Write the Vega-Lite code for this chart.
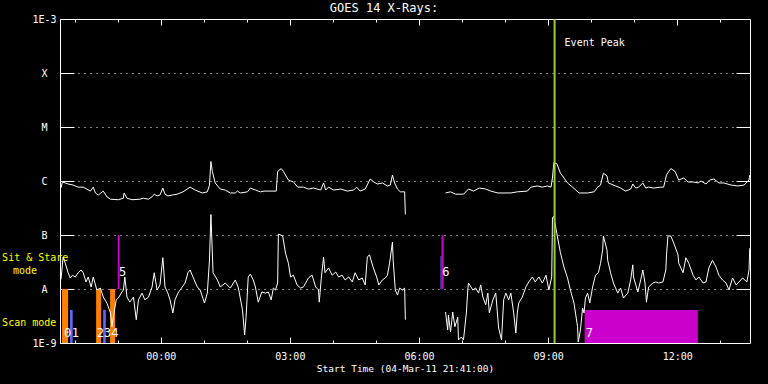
{
  "$schema": "https://vega.github.io/schema/vega-lite/v6.json",
  "width": 690,
  "height": 324,
  "autosize": {"type": "none"},
  "padding": {"left": 60, "top": 19, "right": 18, "bottom": 41},
  "background": "black",
  "title": {"text": "GOES 14 X-Rays:", "color": "white", "font": "DejaVu Sans Mono", "fontSize": 12, "fontWeight": "normal", "anchor": "middle", "frame": "group", "offset": -1, "dx": -21},
  "config": {
    "view": {"stroke": "white", "strokeWidth": 1},
    "axis": {"labelColor": "white", "tickColor": "white", "domainColor": "white", "titleColor": "white", "labelFont": "DejaVu Sans Mono", "titleFont": "DejaVu Sans Mono", "labelFontSize": 10, "titleFontSize": 9.5, "titleFontWeight": "normal", "tickWidth": 1, "tickOpacity": 1}
  },
  "datasets": {
    "long": [
      {"t":"2011-03-04T21:41Z","f":7.4e-7,"seg":1},{"t":"2011-03-04T21:43Z","f":9.6e-7,"seg":1},{"t":"2011-03-04T21:47Z","f":9.2e-7,"seg":1},{"t":"2011-03-04T21:51Z","f":8.8e-7,"seg":1},{"t":"2011-03-04T21:58Z","f":8.4e-7,"seg":1},{"t":"2011-03-04T22:05Z","f":7.7e-7,"seg":1},{"t":"2011-03-04T22:12Z","f":7.7e-7,"seg":1},{"t":"2011-03-04T22:17Z","f":7.1e-7,"seg":1},{"t":"2011-03-04T22:22Z","f":6.5e-7,"seg":1},{"t":"2011-03-04T22:26Z","f":7.7e-7,"seg":1},{"t":"2011-03-04T22:29Z","f":6.0e-7,"seg":1},{"t":"2011-03-04T22:33Z","f":5.5e-7,"seg":1},{"t":"2011-03-04T22:40Z","f":6.5e-7,"seg":1},{"t":"2011-03-04T22:45Z","f":5.1e-7,"seg":1},{"t":"2011-03-04T22:50Z","f":4.6e-7,"seg":1},{"t":"2011-03-04T23:01Z","f":4.5e-7,"seg":1},{"t":"2011-03-04T23:08Z","f":4.8e-7,"seg":1},{"t":"2011-03-04T23:09Z","f":6.0e-7,"seg":1},{"t":"2011-03-04T23:13Z","f":4.8e-7,"seg":1},{"t":"2011-03-04T23:20Z","f":4.5e-7,"seg":1},{"t":"2011-03-04T23:31Z","f":4.6e-7,"seg":1},{"t":"2011-03-04T23:36Z","f":4.8e-7,"seg":1},{"t":"2011-03-04T23:43Z","f":4.6e-7,"seg":1},{"t":"2011-03-04T23:48Z","f":5.1e-7,"seg":1},{"t":"2011-03-04T23:51Z","f":5.7e-7,"seg":1},{"t":"2011-03-04T23:55Z","f":5.3e-7,"seg":1},{"t":"2011-03-04T23:59Z","f":5.5e-7,"seg":1},
      {"t":"2011-03-05T00:03Z","f":7.4e-7,"seg":1},{"t":"2011-03-05T00:06Z","f":5.7e-7,"seg":1},{"t":"2011-03-05T00:10Z","f":5.3e-7,"seg":1},{"t":"2011-03-05T00:16Z","f":5.5e-7,"seg":1},{"t":"2011-03-05T00:23Z","f":5.7e-7,"seg":1},{"t":"2011-03-05T00:31Z","f":6.3e-7,"seg":1},{"t":"2011-03-05T00:41Z","f":7.7e-7,"seg":1},{"t":"2011-03-05T00:48Z","f":6.8e-7,"seg":1},{"t":"2011-03-05T00:58Z","f":6.0e-7,"seg":1},{"t":"2011-03-05T01:05Z","f":6.3e-7,"seg":1},{"t":"2011-03-05T01:08Z","f":8.4e-7,"seg":1},{"t":"2011-03-05T01:10Z","f":2.3e-6,"seg":1},{"t":"2011-03-05T01:12Z","f":1.5e-6,"seg":1},{"t":"2011-03-05T01:16Z","f":9.2e-7,"seg":1},{"t":"2011-03-05T01:23Z","f":7.1e-7,"seg":1},{"t":"2011-03-05T01:30Z","f":6.8e-7,"seg":1},{"t":"2011-03-05T01:37Z","f":6.0e-7,"seg":1},{"t":"2011-03-05T01:44Z","f":6.0e-7,"seg":1},{"t":"2011-03-05T01:47Z","f":6.5e-7,"seg":1},{"t":"2011-03-05T01:51Z","f":6.0e-7,"seg":1},{"t":"2011-03-05T02:01Z","f":6.3e-7,"seg":1},{"t":"2011-03-05T02:05Z","f":7.4e-7,"seg":1},{"t":"2011-03-05T02:12Z","f":6.8e-7,"seg":1},{"t":"2011-03-05T02:19Z","f":6.3e-7,"seg":1},{"t":"2011-03-05T02:24Z","f":6.5e-7,"seg":1},{"t":"2011-03-05T02:41Z","f":6.5e-7,"seg":1},{"t":"2011-03-05T02:43Z","f":1.5e-6,"seg":1},{"t":"2011-03-05T02:48Z","f":1.7e-6,"seg":1},{"t":"2011-03-05T02:51Z","f":1.5e-6,"seg":1},{"t":"2011-03-05T02:58Z","f":1.04e-6,"seg":1},{"t":"2011-03-05T03:05Z","f":9.6e-7,"seg":1},{"t":"2011-03-05T03:11Z","f":7.7e-7,"seg":1},{"t":"2011-03-05T03:19Z","f":7.7e-7,"seg":1},{"t":"2011-03-05T03:26Z","f":7.1e-7,"seg":1},{"t":"2011-03-05T03:33Z","f":7.4e-7,"seg":1},{"t":"2011-03-05T03:43Z","f":6.8e-7,"seg":1},{"t":"2011-03-05T03:47Z","f":9.2e-7,"seg":1},{"t":"2011-03-05T03:50Z","f":6.8e-7,"seg":1},{"t":"2011-03-05T03:54Z","f":7.7e-7,"seg":1},{"t":"2011-03-05T04:01Z","f":6.8e-7,"seg":1},{"t":"2011-03-05T04:11Z","f":7.1e-7,"seg":1},{"t":"2011-03-05T04:20Z","f":6.5e-7,"seg":1},{"t":"2011-03-05T04:29Z","f":6.8e-7,"seg":1},{"t":"2011-03-05T04:33Z","f":7.7e-7,"seg":1},{"t":"2011-03-05T04:38Z","f":6.5e-7,"seg":1},{"t":"2011-03-05T04:45Z","f":7.1e-7,"seg":1},{"t":"2011-03-05T04:52Z","f":1.09e-6,"seg":1},{"t":"2011-03-05T04:57Z","f":9.6e-7,"seg":1},{"t":"2011-03-05T05:02Z","f":8.8e-7,"seg":1},{"t":"2011-03-05T05:09Z","f":9.2e-7,"seg":1},{"t":"2011-03-05T05:16Z","f":8.1e-7,"seg":1},{"t":"2011-03-05T05:20Z","f":8.4e-7,"seg":1},{"t":"2011-03-05T05:23Z","f":1.29e-6,"seg":1},{"t":"2011-03-05T05:26Z","f":9.2e-7,"seg":1},{"t":"2011-03-05T05:30Z","f":7.1e-7,"seg":1},{"t":"2011-03-05T05:34Z","f":6.3e-7,"seg":1},{"t":"2011-03-05T05:40Z","f":6.3e-7,"seg":1},{"t":"2011-03-05T05:41Z","f":2.4e-7,"seg":1},
      {"t":"2011-03-05T06:37Z","f":6.0e-7,"seg":2},{"t":"2011-03-05T06:44Z","f":6.3e-7,"seg":2},{"t":"2011-03-05T06:51Z","f":5.7e-7,"seg":2},{"t":"2011-03-05T07:02Z","f":5.7e-7,"seg":2},{"t":"2011-03-05T07:09Z","f":7.1e-7,"seg":2},{"t":"2011-03-05T07:16Z","f":6.5e-7,"seg":2},{"t":"2011-03-05T07:24Z","f":7.4e-7,"seg":2},{"t":"2011-03-05T07:33Z","f":7.1e-7,"seg":2},{"t":"2011-03-05T07:40Z","f":6.5e-7,"seg":2},{"t":"2011-03-05T07:50Z","f":6.0e-7,"seg":2},{"t":"2011-03-05T08:08Z","f":6.0e-7,"seg":2},{"t":"2011-03-05T08:17Z","f":6.3e-7,"seg":2},{"t":"2011-03-05T08:31Z","f":6.5e-7,"seg":2},{"t":"2011-03-05T08:36Z","f":7.7e-7,"seg":2},{"t":"2011-03-05T08:45Z","f":8.1e-7,"seg":2},{"t":"2011-03-05T08:52Z","f":7.7e-7,"seg":2},{"t":"2011-03-05T08:59Z","f":8.1e-7,"seg":2},{"t":"2011-03-05T09:04Z","f":7.7e-7,"seg":2},{"t":"2011-03-05T09:06Z","f":1.14e-6,"seg":2},{"t":"2011-03-05T09:08Z","f":2.2e-6,"seg":2},{"t":"2011-03-05T09:12Z","f":2.1e-6,"seg":2},{"t":"2011-03-05T09:17Z","f":1.41e-6,"seg":2},{"t":"2011-03-05T09:27Z","f":9.2e-7,"seg":2},{"t":"2011-03-05T09:34Z","f":7.7e-7,"seg":2},{"t":"2011-03-05T09:43Z","f":6.0e-7,"seg":2},{"t":"2011-03-05T09:55Z","f":6.0e-7,"seg":2},{"t":"2011-03-05T10:04Z","f":6.3e-7,"seg":2},{"t":"2011-03-05T10:09Z","f":7.7e-7,"seg":2},{"t":"2011-03-05T10:13Z","f":8.4e-7,"seg":2},{"t":"2011-03-05T10:17Z","f":1.4e-6,"seg":2},{"t":"2011-03-05T10:22Z","f":1.24e-6,"seg":2},{"t":"2011-03-05T10:24Z","f":9.2e-7,"seg":2},{"t":"2011-03-05T10:34Z","f":8.1e-7,"seg":2},{"t":"2011-03-05T10:41Z","f":7.4e-7,"seg":2},{"t":"2011-03-05T10:48Z","f":6.5e-7,"seg":2},{"t":"2011-03-05T10:55Z","f":7.1e-7,"seg":2},{"t":"2011-03-05T10:58Z","f":8.8e-7,"seg":2},{"t":"2011-03-05T11:02Z","f":7.4e-7,"seg":2},{"t":"2011-03-05T11:06Z","f":7.7e-7,"seg":2},{"t":"2011-03-05T11:12Z","f":9.2e-7,"seg":2},{"t":"2011-03-05T11:16Z","f":7.4e-7,"seg":2},{"t":"2011-03-05T11:20Z","f":7.7e-7,"seg":2},{"t":"2011-03-05T11:27Z","f":7.4e-7,"seg":2},{"t":"2011-03-05T11:37Z","f":7.7e-7,"seg":2},{"t":"2011-03-05T11:41Z","f":7.7e-7,"seg":2},{"t":"2011-03-05T11:45Z","f":1.3e-6,"seg":2},{"t":"2011-03-05T11:51Z","f":1.7e-6,"seg":2},{"t":"2011-03-05T11:57Z","f":1.5e-6,"seg":2},{"t":"2011-03-05T12:02Z","f":1.04e-6,"seg":2},{"t":"2011-03-05T12:09Z","f":1.14e-6,"seg":2},{"t":"2011-03-05T12:15Z","f":9.6e-7,"seg":2},{"t":"2011-03-05T12:22Z","f":9.6e-7,"seg":2},{"t":"2011-03-05T12:29Z","f":9.2e-7,"seg":2},{"t":"2011-03-05T12:33Z","f":1.0e-6,"seg":2},{"t":"2011-03-05T12:40Z","f":8.8e-7,"seg":2},{"t":"2011-03-05T12:45Z","f":1.04e-6,"seg":2},{"t":"2011-03-05T12:51Z","f":1.09e-6,"seg":2},{"t":"2011-03-05T12:58Z","f":9.2e-7,"seg":2},{"t":"2011-03-05T13:05Z","f":9.2e-7,"seg":2},{"t":"2011-03-05T13:15Z","f":8.4e-7,"seg":2},{"t":"2011-03-05T13:24Z","f":8.1e-7,"seg":2},{"t":"2011-03-05T13:33Z","f":8.4e-7,"seg":2},{"t":"2011-03-05T13:40Z","f":1.04e-6,"seg":2},{"t":"2011-03-05T13:41Z","f":1.29e-6,"seg":2}
    ],
    "short": [
      {"t":"2011-03-04T21:41Z","f":1.5e-8,"seg":1},{"t":"2011-03-04T21:43Z","f":2.8e-8,"seg":1},{"t":"2011-03-04T21:44Z","f":3.9e-8,"seg":1},{"t":"2011-03-04T21:47Z","f":3.0e-8,"seg":1},{"t":"2011-03-04T21:49Z","f":2.45e-8,"seg":1},{"t":"2011-03-04T21:51Z","f":2.0e-8,"seg":1},{"t":"2011-03-04T21:54Z","f":1.6e-8,"seg":1},{"t":"2011-03-04T21:57Z","f":1.8e-8,"seg":1},{"t":"2011-03-04T22:01Z","f":1.67e-8,"seg":1},{"t":"2011-03-04T22:05Z","f":2.0e-8,"seg":1},{"t":"2011-03-04T22:09Z","f":2.25e-8,"seg":1},{"t":"2011-03-04T22:12Z","f":2.0e-8,"seg":1},{"t":"2011-03-04T22:16Z","f":1.35e-8,"seg":1},{"t":"2011-03-04T22:19Z","f":1.67e-8,"seg":1},{"t":"2011-03-04T22:23Z","f":1.09e-8,"seg":1},{"t":"2011-03-04T22:26Z","f":1.67e-8,"seg":1},{"t":"2011-03-04T22:31Z","f":9.6e-9,"seg":1},{"t":"2011-03-04T22:36Z","f":1.04e-8,"seg":1},{"t":"2011-03-04T22:40Z","f":7.1e-9,"seg":1},{"t":"2011-03-04T22:45Z","f":5.5e-9,"seg":1},{"t":"2011-03-04T22:50Z","f":3.6e-9,"seg":1},{"t":"2011-03-04T22:52Z","f":2.0e-9,"seg":1},{"t":"2011-03-04T22:54Z","f":3.0e-9,"seg":1},{"t":"2011-03-04T22:58Z","f":6.3e-9,"seg":1},{"t":"2011-03-04T23:01Z","f":6.8e-9,"seg":1},{"t":"2011-03-04T23:05Z","f":8.4e-9,"seg":1},{"t":"2011-03-04T23:08Z","f":9.6e-9,"seg":1},{"t":"2011-03-04T23:10Z","f":1.67e-8,"seg":1},{"t":"2011-03-04T23:13Z","f":7.1e-9,"seg":1},{"t":"2011-03-04T23:17Z","f":5.7e-9,"seg":1},{"t":"2011-03-04T23:22Z","f":7.1e-9,"seg":1},{"t":"2011-03-04T23:26Z","f":2.7e-9,"seg":1},{"t":"2011-03-04T23:29Z","f":6.3e-9,"seg":1},{"t":"2011-03-04T23:34Z","f":8.4e-9,"seg":1},{"t":"2011-03-04T23:38Z","f":6.3e-9,"seg":1},{"t":"2011-03-04T23:43Z","f":7.1e-9,"seg":1},{"t":"2011-03-04T23:48Z","f":1.09e-8,"seg":1},{"t":"2011-03-04T23:51Z","f":2.0e-8,"seg":1},{"t":"2011-03-04T23:55Z","f":9.6e-9,"seg":1},{"t":"2011-03-04T23:59Z","f":1.19e-8,"seg":1},
      {"t":"2011-03-05T00:03Z","f":3.8e-8,"seg":1},{"t":"2011-03-05T00:06Z","f":1.09e-8,"seg":1},{"t":"2011-03-05T00:10Z","f":8.4e-9,"seg":1},{"t":"2011-03-05T00:13Z","f":6.3e-9,"seg":1},{"t":"2011-03-05T00:17Z","f":3.6e-9,"seg":1},{"t":"2011-03-05T00:20Z","f":6.3e-9,"seg":1},{"t":"2011-03-05T00:24Z","f":8.4e-9,"seg":1},{"t":"2011-03-05T00:30Z","f":1.09e-8,"seg":1},{"t":"2011-03-05T00:34Z","f":1.29e-8,"seg":1},{"t":"2011-03-05T00:38Z","f":2.0e-8,"seg":1},{"t":"2011-03-05T00:41Z","f":2.25e-8,"seg":1},{"t":"2011-03-05T00:45Z","f":1.67e-8,"seg":1},{"t":"2011-03-05T00:51Z","f":1.09e-8,"seg":1},{"t":"2011-03-05T00:55Z","f":9.6e-9,"seg":1},{"t":"2011-03-05T01:01Z","f":5.5e-9,"seg":1},{"t":"2011-03-05T01:05Z","f":8.4e-9,"seg":1},{"t":"2011-03-05T01:08Z","f":3.44e-8,"seg":1},{"t":"2011-03-05T01:10Z","f":2.4e-7,"seg":1},{"t":"2011-03-05T01:13Z","f":2.0e-8,"seg":1},{"t":"2011-03-05T01:19Z","f":1.47e-8,"seg":1},{"t":"2011-03-05T01:23Z","f":1.09e-8,"seg":1},{"t":"2011-03-05T01:30Z","f":1.29e-8,"seg":1},{"t":"2011-03-05T01:37Z","f":1.04e-8,"seg":1},{"t":"2011-03-05T01:44Z","f":1.47e-8,"seg":1},{"t":"2011-03-05T01:48Z","f":1.09e-8,"seg":1},{"t":"2011-03-05T01:54Z","f":4.1e-9,"seg":1},{"t":"2011-03-05T01:57Z","f":1.41e-9,"seg":1},{"t":"2011-03-05T01:59Z","f":3.0e-9,"seg":1},{"t":"2011-03-05T02:02Z","f":1.67e-8,"seg":1},{"t":"2011-03-05T02:05Z","f":1.89e-8,"seg":1},{"t":"2011-03-05T02:09Z","f":1.47e-8,"seg":1},{"t":"2011-03-05T02:12Z","f":1.09e-8,"seg":1},{"t":"2011-03-05T02:16Z","f":5.7e-9,"seg":1},{"t":"2011-03-05T02:21Z","f":8.8e-9,"seg":1},{"t":"2011-03-05T02:26Z","f":8.4e-9,"seg":1},{"t":"2011-03-05T02:30Z","f":8.8e-9,"seg":1},{"t":"2011-03-05T02:34Z","f":6.3e-9,"seg":1},{"t":"2011-03-05T02:37Z","f":1.04e-8,"seg":1},{"t":"2011-03-05T02:40Z","f":9.6e-9,"seg":1},{"t":"2011-03-05T02:43Z","f":1.29e-8,"seg":1},{"t":"2011-03-05T02:44Z","f":1.04e-7,"seg":1},{"t":"2011-03-05T02:50Z","f":9.6e-8,"seg":1},{"t":"2011-03-05T02:54Z","f":4.6e-8,"seg":1},{"t":"2011-03-05T02:58Z","f":3.0e-8,"seg":1},{"t":"2011-03-05T03:01Z","f":1.67e-8,"seg":1},{"t":"2011-03-05T03:05Z","f":1.8e-8,"seg":1},{"t":"2011-03-05T03:10Z","f":1.19e-8,"seg":1},{"t":"2011-03-05T03:15Z","f":1.04e-8,"seg":1},{"t":"2011-03-05T03:19Z","f":1.09e-8,"seg":1},{"t":"2011-03-05T03:22Z","f":1.29e-8,"seg":1},{"t":"2011-03-05T03:26Z","f":1.6e-8,"seg":1},{"t":"2011-03-05T03:31Z","f":1.8e-8,"seg":1},{"t":"2011-03-05T03:36Z","f":1.09e-8,"seg":1},{"t":"2011-03-05T03:40Z","f":9.6e-9,"seg":1},{"t":"2011-03-05T03:41Z","f":5.7e-9,"seg":1},{"t":"2011-03-05T03:44Z","f":1.67e-8,"seg":1},{"t":"2011-03-05T03:47Z","f":3.9e-8,"seg":1},{"t":"2011-03-05T03:49Z","f":2.0e-8,"seg":1},{"t":"2011-03-05T03:54Z","f":2.45e-8,"seg":1},{"t":"2011-03-05T03:59Z","f":1.8e-8,"seg":1},{"t":"2011-03-05T04:04Z","f":2.06e-8,"seg":1},{"t":"2011-03-05T04:08Z","f":1.67e-8,"seg":1},{"t":"2011-03-05T04:13Z","f":1.8e-8,"seg":1},{"t":"2011-03-05T04:17Z","f":1.47e-8,"seg":1},{"t":"2011-03-05T04:22Z","f":1.67e-8,"seg":1},{"t":"2011-03-05T04:27Z","f":1.35e-8,"seg":1},{"t":"2011-03-05T04:31Z","f":2.0e-8,"seg":1},{"t":"2011-03-05T04:36Z","f":1.47e-8,"seg":1},{"t":"2011-03-05T04:41Z","f":1.6e-8,"seg":1},{"t":"2011-03-05T04:45Z","f":1.19e-8,"seg":1},{"t":"2011-03-05T04:48Z","f":3.9e-8,"seg":1},{"t":"2011-03-05T04:51Z","f":4.3e-8,"seg":1},{"t":"2011-03-05T04:56Z","f":2.55e-8,"seg":1},{"t":"2011-03-05T05:01Z","f":1.67e-8,"seg":1},{"t":"2011-03-05T05:04Z","f":1.19e-8,"seg":1},{"t":"2011-03-05T05:09Z","f":1.47e-8,"seg":1},{"t":"2011-03-05T05:13Z","f":1.6e-8,"seg":1},{"t":"2011-03-05T05:16Z","f":1.8e-8,"seg":1},{"t":"2011-03-05T05:19Z","f":3.0e-8,"seg":1},{"t":"2011-03-05T05:23Z","f":7.4e-8,"seg":1},{"t":"2011-03-05T05:24Z","f":3.4e-8,"seg":1},{"t":"2011-03-05T05:27Z","f":9.6e-9,"seg":1},{"t":"2011-03-05T05:30Z","f":7.7e-9,"seg":1},{"t":"2011-03-05T05:33Z","f":1.04e-8,"seg":1},{"t":"2011-03-05T05:37Z","f":9.6e-9,"seg":1},{"t":"2011-03-05T05:40Z","f":1.04e-8,"seg":1},{"t":"2011-03-05T05:41Z","f":2.7e-9,"seg":1},
      {"t":"2011-03-05T06:37Z","f":3.75e-9,"seg":2},{"t":"2011-03-05T06:40Z","f":1.74e-9,"seg":2},{"t":"2011-03-05T06:41Z","f":3.3e-9,"seg":2},{"t":"2011-03-05T06:44Z","f":1.6e-9,"seg":2},{"t":"2011-03-05T06:47Z","f":3.75e-9,"seg":2},{"t":"2011-03-05T06:50Z","f":2.0e-9,"seg":2},{"t":"2011-03-05T06:54Z","f":3.0e-9,"seg":2},{"t":"2011-03-05T06:55Z","f":1.14e-9,"seg":2},{"t":"2011-03-05T06:59Z","f":1.29e-9,"seg":2},{"t":"2011-03-05T07:02Z","f":1.14e-9,"seg":2},{"t":"2011-03-05T07:06Z","f":3.6e-9,"seg":2},{"t":"2011-03-05T07:08Z","f":9.6e-9,"seg":2},{"t":"2011-03-05T07:09Z","f":1.29e-8,"seg":2},{"t":"2011-03-05T07:15Z","f":9.6e-9,"seg":2},{"t":"2011-03-05T07:19Z","f":1.04e-8,"seg":2},{"t":"2011-03-05T07:23Z","f":8.4e-9,"seg":2},{"t":"2011-03-05T07:26Z","f":1.19e-8,"seg":2},{"t":"2011-03-05T07:29Z","f":7.1e-9,"seg":2},{"t":"2011-03-05T07:33Z","f":5.1e-9,"seg":2},{"t":"2011-03-05T07:36Z","f":8.4e-9,"seg":2},{"t":"2011-03-05T07:38Z","f":3.6e-9,"seg":2},{"t":"2011-03-05T07:43Z","f":6.3e-9,"seg":2},{"t":"2011-03-05T07:47Z","f":8.4e-9,"seg":2},{"t":"2011-03-05T07:51Z","f":1.89e-9,"seg":2},{"t":"2011-03-05T07:55Z","f":1.14e-9,"seg":2},{"t":"2011-03-05T07:58Z","f":6.3e-9,"seg":2},{"t":"2011-03-05T08:01Z","f":8.4e-9,"seg":2},{"t":"2011-03-05T08:05Z","f":6.3e-9,"seg":2},{"t":"2011-03-05T08:08Z","f":8.4e-9,"seg":2},{"t":"2011-03-05T08:12Z","f":3.6e-9,"seg":2},{"t":"2011-03-05T08:15Z","f":1.53e-9,"seg":2},{"t":"2011-03-05T08:17Z","f":3.6e-9,"seg":2},{"t":"2011-03-05T08:19Z","f":5.5e-9,"seg":2},{"t":"2011-03-05T08:24Z","f":7.1e-9,"seg":2},{"t":"2011-03-05T08:29Z","f":1.09e-8,"seg":2},{"t":"2011-03-05T08:33Z","f":1.35e-8,"seg":2},{"t":"2011-03-05T08:38Z","f":1.67e-8,"seg":2},{"t":"2011-03-05T08:42Z","f":1.35e-8,"seg":2},{"t":"2011-03-05T08:47Z","f":1.67e-8,"seg":2},{"t":"2011-03-05T08:52Z","f":1.29e-8,"seg":2},{"t":"2011-03-05T08:57Z","f":1.8e-8,"seg":2},{"t":"2011-03-05T09:01Z","f":9.6e-9,"seg":2},{"t":"2011-03-05T09:05Z","f":1.67e-8,"seg":2},{"t":"2011-03-05T09:06Z","f":2.1e-7,"seg":2},{"t":"2011-03-05T09:08Z","f":2.2e-7,"seg":2},{"t":"2011-03-05T09:10Z","f":1.53e-7,"seg":2},{"t":"2011-03-05T09:13Z","f":9.2e-8,"seg":2},{"t":"2011-03-05T09:17Z","f":4.8e-8,"seg":2},{"t":"2011-03-05T09:22Z","f":2.55e-8,"seg":2},{"t":"2011-03-05T09:27Z","f":1.6e-8,"seg":2},{"t":"2011-03-05T09:31Z","f":9.6e-9,"seg":2},{"t":"2011-03-05T09:36Z","f":5.5e-9,"seg":2},{"t":"2011-03-05T09:41Z","f":2.0e-9,"seg":2},{"t":"2011-03-05T09:42Z","f":1.04e-9,"seg":2},{"t":"2011-03-05T09:45Z","f":1.74e-9,"seg":2},{"t":"2011-03-05T09:48Z","f":4.45e-9,"seg":2},{"t":"2011-03-05T09:50Z","f":3.6e-9,"seg":2},{"t":"2011-03-05T09:52Z","f":6.8e-9,"seg":2},{"t":"2011-03-05T09:55Z","f":8.4e-9,"seg":2},{"t":"2011-03-05T09:58Z","f":5.5e-9,"seg":2},{"t":"2011-03-05T10:02Z","f":1.09e-8,"seg":2},{"t":"2011-03-05T10:06Z","f":1.8e-8,"seg":2},{"t":"2011-03-05T10:10Z","f":2.0e-8,"seg":2},{"t":"2011-03-05T10:13Z","f":3.0e-8,"seg":2},{"t":"2011-03-05T10:16Z","f":5.3e-8,"seg":2},{"t":"2011-03-05T10:17Z","f":9.6e-8,"seg":2},{"t":"2011-03-05T10:22Z","f":5.3e-8,"seg":2},{"t":"2011-03-05T10:23Z","f":3.4e-8,"seg":2},{"t":"2011-03-05T10:27Z","f":2.0e-8,"seg":2},{"t":"2011-03-05T10:31Z","f":1.29e-8,"seg":2},{"t":"2011-03-05T10:37Z","f":8.4e-9,"seg":2},{"t":"2011-03-05T10:41Z","f":1.04e-8,"seg":2},{"t":"2011-03-05T10:45Z","f":6.8e-9,"seg":2},{"t":"2011-03-05T10:51Z","f":8.4e-9,"seg":2},{"t":"2011-03-05T10:55Z","f":1.47e-8,"seg":2},{"t":"2011-03-05T10:58Z","f":2.8e-8,"seg":2},{"t":"2011-03-05T10:59Z","f":1.67e-8,"seg":2},{"t":"2011-03-05T11:05Z","f":8.8e-9,"seg":2},{"t":"2011-03-05T11:09Z","f":1.47e-8,"seg":2},{"t":"2011-03-05T11:12Z","f":2.25e-8,"seg":2},{"t":"2011-03-05T11:15Z","f":1.29e-8,"seg":2},{"t":"2011-03-05T11:17Z","f":5.7e-9,"seg":2},{"t":"2011-03-05T11:20Z","f":1.09e-8,"seg":2},{"t":"2011-03-05T11:26Z","f":1.29e-8,"seg":2},{"t":"2011-03-05T11:30Z","f":1.35e-8,"seg":2},{"t":"2011-03-05T11:34Z","f":1.29e-8,"seg":2},{"t":"2011-03-05T11:40Z","f":1.35e-8,"seg":2},{"t":"2011-03-05T11:44Z","f":2.25e-8,"seg":2},{"t":"2011-03-05T11:45Z","f":4.3e-8,"seg":2},{"t":"2011-03-05T11:47Z","f":9.6e-8,"seg":2},{"t":"2011-03-05T11:51Z","f":9.6e-8,"seg":2},{"t":"2011-03-05T11:55Z","f":7.1e-8,"seg":2},{"t":"2011-03-05T12:01Z","f":4.3e-8,"seg":2},{"t":"2011-03-05T12:02Z","f":3.0e-8,"seg":2},{"t":"2011-03-05T12:08Z","f":2.0e-8,"seg":2},{"t":"2011-03-05T12:12Z","f":3.8e-8,"seg":2},{"t":"2011-03-05T12:16Z","f":3.0e-8,"seg":2},{"t":"2011-03-05T12:22Z","f":1.8e-8,"seg":2},{"t":"2011-03-05T12:26Z","f":1.47e-8,"seg":2},{"t":"2011-03-05T12:30Z","f":1.67e-8,"seg":2},{"t":"2011-03-05T12:36Z","f":1.29e-8,"seg":2},{"t":"2011-03-05T12:40Z","f":1.35e-8,"seg":2},{"t":"2011-03-05T12:44Z","f":2.45e-8,"seg":2},{"t":"2011-03-05T12:49Z","f":3.4e-8,"seg":2},{"t":"2011-03-05T12:54Z","f":2.55e-8,"seg":2},{"t":"2011-03-05T12:58Z","f":1.8e-8,"seg":2},{"t":"2011-03-05T13:03Z","f":1.47e-8,"seg":2},{"t":"2011-03-05T13:08Z","f":1.29e-8,"seg":2},{"t":"2011-03-05T13:12Z","f":9.6e-9,"seg":2},{"t":"2011-03-05T13:17Z","f":1.6e-8,"seg":2},{"t":"2011-03-05T13:22Z","f":1.19e-8,"seg":2},{"t":"2011-03-05T13:26Z","f":1.35e-8,"seg":2},{"t":"2011-03-05T13:31Z","f":1.6e-8,"seg":2},{"t":"2011-03-05T13:37Z","f":1.35e-8,"seg":2},{"t":"2011-03-05T13:40Z","f":2.25e-8,"seg":2},{"t":"2011-03-05T13:41Z","f":5.7e-8,"seg":2}
    ],
    "modes": [
      {"id":"0","start":"2011-03-04T21:42:30Z","end":"2011-03-04T21:51:00Z","lo":1e-9,"hi":1e-8,"grp":"orange"},
      {"id":"1","start":"2011-03-04T21:53:40Z","end":"2011-03-04T21:57:20Z","lo":1e-9,"hi":4.1e-9,"grp":"blue"},
      {"id":"2","start":"2011-03-04T22:30:00Z","end":"2011-03-04T22:37:00Z","lo":1e-9,"hi":1e-8,"grp":"orange"},
      {"id":"3","start":"2011-03-04T22:39:50Z","end":"2011-03-04T22:43:30Z","lo":1e-9,"hi":4.1e-9,"grp":"blue"},
      {"id":"4","start":"2011-03-04T22:49:30Z","end":"2011-03-04T22:56:30Z","lo":1e-9,"hi":1e-8,"grp":"orange"},
      {"id":"5","start":"2011-03-04T23:00:00Z","end":"2011-03-04T23:02:40Z","lo":1e-8,"hi":1e-7,"grp":"magenta"},
      {"id":"6b","start":"2011-03-05T06:30:00Z","end":"2011-03-05T06:31:20Z","lo":1e-8,"hi":4.1e-8,"grp":"blue"},
      {"id":"6","start":"2011-03-05T06:31:20Z","end":"2011-03-05T06:34:10Z","lo":1e-8,"hi":1e-7,"grp":"magenta"},
      {"id":"7","start":"2011-03-05T09:50:50Z","end":"2011-03-05T12:28:40Z","lo":1e-9,"hi":4.1e-9,"grp":"magenta"}
    ],
    "modelabels": [
      {"t":"2011-03-04T21:45:20Z","y":1.53e-9,"id":"0"},
      {"t":"2011-03-04T21:56:00Z","y":1.53e-9,"id":"1"},
      {"t":"2011-03-04T22:31:00Z","y":1.53e-9,"id":"2"},
      {"t":"2011-03-04T22:41:00Z","y":1.53e-9,"id":"3"},
      {"t":"2011-03-04T22:51:00Z","y":1.53e-9,"id":"4"},
      {"t":"2011-03-04T23:02:00Z","y":2.06e-8,"id":"5"},
      {"t":"2011-03-05T06:32:20Z","y":2.06e-8,"id":"6"},
      {"t":"2011-03-05T09:52:20Z","y":1.53e-9,"id":"7"}
    ],
    "peak": [{"t":"2011-03-05T09:09Z","y":3.6e-4,"label":"Event Peak"}],
    "side": [
      {"t":"2011-03-04T20:19Z","y":3.7e-8,"txt":"Sit & Stare"},
      {"t":"2011-03-04T20:34Z","y":2.2e-8,"txt":"mode"},
      {"t":"2011-03-04T20:19Z","y":2.35e-9,"txt":"Scan mode"}
    ]
  },
  "layer": [
    {
      "data": {"name": "modes"},
      "mark": {"type": "rect"},
      "encoding": {
        "x": {"field": "start", "type": "temporal",
          "scale": {"type": "utc", "nice": false, "domain": [{"year":2011,"month":3,"date":4,"hours":21,"minutes":39,"seconds":40,"utc":true},{"year":2011,"month":3,"date":5,"hours":13,"minutes":41,"seconds":20,"utc":true}]},
          "axis": {"orient": "bottom", "values": [{"year":2011,"month":3,"date":5,"hours":0,"utc":true},{"year":2011,"month":3,"date":5,"hours":3,"utc":true},{"year":2011,"month":3,"date":5,"hours":6,"utc":true},{"year":2011,"month":3,"date":5,"hours":9,"utc":true},{"year":2011,"month":3,"date":5,"hours":12,"utc":true}],
            "labelExpr": "utcFormat(datum.value, '%H:%M')", "ticks": false, "tickSize": 0, "domain": false, "grid": false, "labelPadding": 8, "labelBaseline": "top", "labelFlush": false,
            "title": "Start Time (04-Mar-11 21:41:00)", "titlePadding": 2}},
        "x2": {"field": "end"},
        "y": {"field": "lo", "type": "quantitative",
          "scale": {"type": "log", "domain": [1e-9, 1e-3], "nice": false},
          "axis": {"orient": "left", "values": [1e-9, 1e-8, 1e-7, 1e-6, 1e-5, 1e-4, 1e-3],
            "labelExpr": "['1E-9','A','B','C','M','X','1E-3'][round(log(datum.value)/LN10)+9]",
            "ticks": false, "tickSize": 0, "domain": false, "grid": true, "gridColor": "white", "gridDash": [1, 5], "gridOpacity": 1, "gridWidth": 1,
            "labelAlign": "center", "labelBaseline": "middle", "labelPadding": 16, "title": null}},
        "y2": {"field": "hi"},
        "color": {"field": "grp", "type": "nominal", "scale": {"domain": ["orange", "blue", "magenta"], "range": ["#ff7f00", "#6464ff", "#cc00cc"]}, "legend": null}
      }
    },
    {
      "data": {"name": "long"},
      "mark": {"type": "line", "color": "white", "strokeWidth": 1},
      "encoding": {
        "x": {"field": "t", "type": "temporal",
          "axis": {"orient": "bottom", "offset": -6, "tickSize": 6, "labels": false, "domain": false, "grid": false, "title": null,
            "values": [{"year":2011,"month":3,"date":5,"hours":0,"utc":true},{"year":2011,"month":3,"date":5,"hours":3,"utc":true},{"year":2011,"month":3,"date":5,"hours":6,"utc":true},{"year":2011,"month":3,"date":5,"hours":9,"utc":true},{"year":2011,"month":3,"date":5,"hours":12,"utc":true}]}},
        "y": {"field": "f", "type": "quantitative",
          "axis": {"orient": "left", "offset": -14, "tickSize": 14, "values": [1e-8, 1e-7, 1e-6, 1e-5, 1e-4], "labels": false, "domain": false, "grid": false, "title": null}},
        "detail": {"field": "seg", "type": "nominal"}
      }
    },
    {
      "data": {"name": "short"},
      "mark": {"type": "line", "color": "white", "strokeWidth": 1},
      "encoding": {
        "x": {"field": "t", "type": "temporal",
          "axis": {"orient": "bottom", "offset": -3, "tickSize": 3, "labels": false, "domain": false, "grid": false, "title": null,
            "values": [{"year":2011,"month":3,"date":4,"hours":22,"utc":true},{"year":2011,"month":3,"date":4,"hours":23,"utc":true},{"year":2011,"month":3,"date":5,"hours":0,"utc":true},{"year":2011,"month":3,"date":5,"hours":1,"utc":true},{"year":2011,"month":3,"date":5,"hours":2,"utc":true},{"year":2011,"month":3,"date":5,"hours":3,"utc":true},{"year":2011,"month":3,"date":5,"hours":4,"utc":true},{"year":2011,"month":3,"date":5,"hours":5,"utc":true},{"year":2011,"month":3,"date":5,"hours":6,"utc":true},{"year":2011,"month":3,"date":5,"hours":7,"utc":true},{"year":2011,"month":3,"date":5,"hours":8,"utc":true},{"year":2011,"month":3,"date":5,"hours":9,"utc":true},{"year":2011,"month":3,"date":5,"hours":10,"utc":true},{"year":2011,"month":3,"date":5,"hours":11,"utc":true},{"year":2011,"month":3,"date":5,"hours":12,"utc":true},{"year":2011,"month":3,"date":5,"hours":13,"utc":true}]}},
        "y": {"field": "f", "type": "quantitative",
          "axis": {"orient": "right", "offset": -14, "tickSize": 14, "values": [1e-8, 1e-7, 1e-6, 1e-5, 1e-4], "labels": false, "domain": false, "grid": false, "title": null}},
        "detail": {"field": "seg", "type": "nominal"}
      }
    },
    {
      "data": {"name": "peak"},
      "mark": {"type": "rule", "color": "#9acd32", "strokeWidth": 2},
      "encoding": {
        "x": {"field": "t", "type": "temporal",
          "axis": {"orient": "top", "offset": -6, "tickSize": 6, "labels": false, "domain": false, "grid": false, "title": null,
            "values": [{"year":2011,"month":3,"date":5,"hours":0,"utc":true},{"year":2011,"month":3,"date":5,"hours":3,"utc":true},{"year":2011,"month":3,"date":5,"hours":6,"utc":true},{"year":2011,"month":3,"date":5,"hours":9,"utc":true},{"year":2011,"month":3,"date":5,"hours":12,"utc":true}]}}
      }
    },
    {
      "data": {"name": "peak"},
      "mark": {"type": "text", "color": "white", "align": "left", "baseline": "middle", "dx": 10, "font": "DejaVu Sans Mono", "fontSize": 10},
      "encoding": {
        "x": {"field": "t", "type": "temporal",
          "axis": {"orient": "top", "offset": -3, "tickSize": 3, "labels": false, "domain": false, "grid": false, "title": null,
            "values": [{"year":2011,"month":3,"date":4,"hours":22,"utc":true},{"year":2011,"month":3,"date":4,"hours":23,"utc":true},{"year":2011,"month":3,"date":5,"hours":0,"utc":true},{"year":2011,"month":3,"date":5,"hours":1,"utc":true},{"year":2011,"month":3,"date":5,"hours":2,"utc":true},{"year":2011,"month":3,"date":5,"hours":3,"utc":true},{"year":2011,"month":3,"date":5,"hours":4,"utc":true},{"year":2011,"month":3,"date":5,"hours":5,"utc":true},{"year":2011,"month":3,"date":5,"hours":6,"utc":true},{"year":2011,"month":3,"date":5,"hours":7,"utc":true},{"year":2011,"month":3,"date":5,"hours":8,"utc":true},{"year":2011,"month":3,"date":5,"hours":9,"utc":true},{"year":2011,"month":3,"date":5,"hours":10,"utc":true},{"year":2011,"month":3,"date":5,"hours":11,"utc":true},{"year":2011,"month":3,"date":5,"hours":12,"utc":true},{"year":2011,"month":3,"date":5,"hours":13,"utc":true}]}},
        "y": {"field": "y", "type": "quantitative", "axis": null},
        "text": {"field": "label"}
      }
    },
    {
      "data": {"name": "modelabels"},
      "mark": {"type": "text", "color": "white", "align": "left", "baseline": "middle", "font": "DejaVu Sans Mono", "fontSize": 12},
      "encoding": {
        "x": {"field": "t", "type": "temporal", "axis": null},
        "y": {"field": "y", "type": "quantitative", "axis": null},
        "text": {"field": "id"}
      }
    },
    {
      "data": {"name": "side"},
      "mark": {"type": "text", "color": "#ffff00", "align": "left", "baseline": "middle", "font": "DejaVu Sans Mono", "fontSize": 10},
      "encoding": {
        "x": {"field": "t", "type": "temporal", "axis": null},
        "y": {"field": "y", "type": "quantitative", "axis": null},
        "text": {"field": "txt"}
      }
    }
  ],
  "resolve": {"axis": {"x": "independent", "y": "independent"}}
}
